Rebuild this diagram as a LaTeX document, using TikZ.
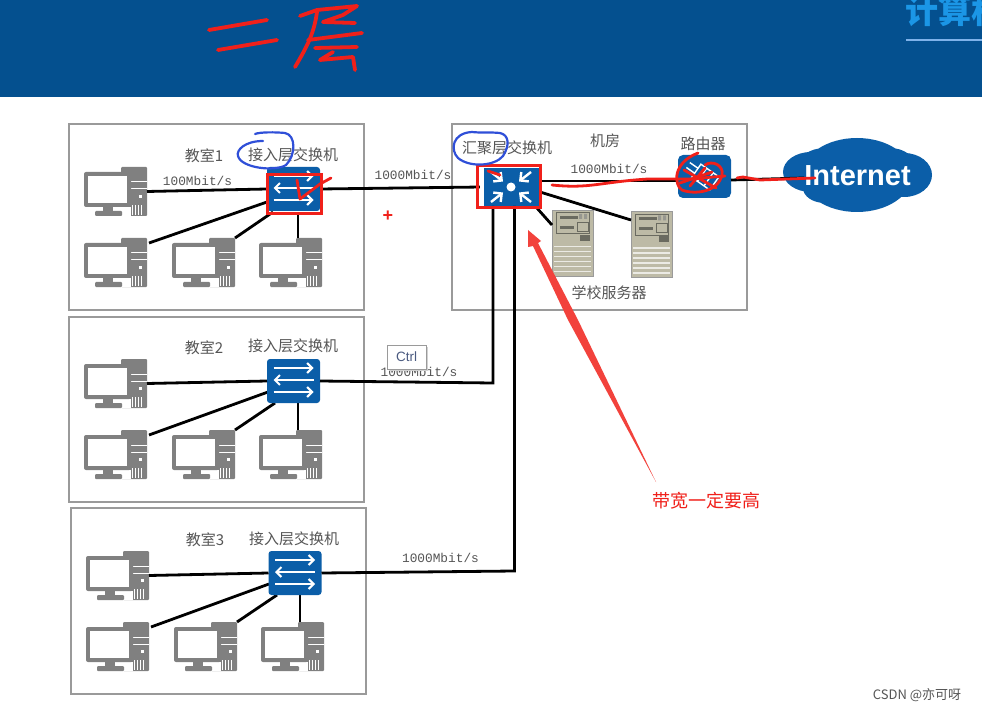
\documentclass[tikz,border=0pt]{standalone}
\usepackage{fontspec}
\setmainfont{Liberation Sans}
\newfontfamily\cjk{Noto Sans CJK SC}
\newfontfamily\lmono{Liberation Mono}
\usetikzlibrary{arrows.meta,calc}
\definecolor{hdr}{HTML}{04508F}
\definecolor{hdrtext}{HTML}{1B96E6}
\definecolor{hdrline}{HTML}{7FB2EA}
\definecolor{ctrltxt}{HTML}{4A5A80}
\definecolor{netblue}{HTML}{0B5EA8}
\definecolor{boxgray}{HTML}{9A9A9A}
\definecolor{pcgray}{HTML}{808080}
\definecolor{txt}{HTML}{555555}
\definecolor{inkred}{HTML}{F0201A}
\definecolor{inkblue}{HTML}{2F4FD8}
\definecolor{srv}{HTML}{BDBAA6}
\definecolor{srvdark}{HTML}{6A6A60}
\tikzset{
  room/.style={draw=boxgray,line width=1.3pt,fill=white},
  link/.style={draw=black,line width=2.8pt},
  cn/.style={font=\cjk\fontsize{15}{15}\selectfont,text=txt,inner sep=0pt},
  rate/.style={font=\lmono\fontsize{12.8}{13}\selectfont,text=txt,inner sep=0pt},
  ink/.style={draw=inkred,line width=2.8pt,line cap=round,line join=round},
  tink/.style={draw=inkred,line width=3.8pt,line cap=round,line join=round},
  bink/.style={draw=inkblue,line width=2.2pt,line cap=round,line join=round},
  wline/.style={draw=white,line width=2pt},
  pcbox/.style={minimum width=63pt,minimum height=49pt,inner sep=0pt,outer sep=0pt},
  srvbox/.style={minimum width=41pt,minimum height=66pt,inner sep=0pt,outer sep=0pt,
    fill=srv,draw=boxgray,line width=.8pt},
  swbox/.style={minimum width=53pt,minimum height=44pt,inner sep=0pt,outer sep=0pt,
    fill=netblue,rounded corners=3pt},
  agbox/.style={minimum width=58pt,minimum height=38pt,inner sep=0pt,outer sep=0pt,fill=netblue},
  rtbox/.style={minimum width=53pt,minimum height=43pt,inner sep=0pt,outer sep=0pt,
    fill=netblue,rounded corners=5pt},
  barb/.style={-{Straight Barb[length=5pt,width=10pt]}},
}
\newcommand\pcdev[2]{%
  \node[pcbox] (#1) at (#2) {};
  \begin{scope}[shift={(#1.north west)}]
    \fill[pcgray,rounded corners=1pt] (37,0) rectangle (63,49);
    \fill[white] (47,14.5) rectangle (63,15.5);
    \fill[white] (47,21.5) rectangle (63,22.5);
    \fill[white] (55,28) rectangle (58,31);
    \fill[white] (37,40) rectangle (47,49);
    \fill[pcgray,rounded corners=2pt] (0,5) rectangle (47,40);
    \fill[white] (4,9) rectangle (43,36);
    \foreach \k in {48,51,54,57} \fill[white] (\k,38) rectangle (\k+1.2,48);
    \fill[pcgray] (19,40) rectangle (29,44);
    \fill[pcgray,rounded corners=1pt] (11,44) rectangle (38,49);
  \end{scope}}
\newcommand\srvdev[2]{%
  \node[srvbox] (#1) at (#2) {};
  \begin{scope}[shift={(#1.north west)}]
    \draw[srvdark,line width=1pt] (4,3) rectangle (37,24);
    \fill[srvdark] (8,6) rectangle (26,9);
    \fill[srvdark] (8,16) rectangle (22,19);
    \draw[srvdark,line width=.8pt] (25,12) rectangle (36,21);
    \fill[srvdark!70] (27,4) rectangle (30,9) (32,4) rectangle (35,9);
    \fill[srvdark] (28,25) rectangle (38,31);
    \foreach \k in {36,41,46,51,56,61} \fill[white!70!srv] (2,\k) rectangle (39,\k+1.4);
  \end{scope}}
\newcommand\swdev[2]{%
  \node[swbox] (#1) at (#2) {};
  \begin{scope}[shift={(#1.center)}]
    \draw[wline,barb] (-20,-13) -- (20,-13);
    \draw[wline,barb] (20,-1) -- (-20,-1);
    \draw[wline,barb] (-20,11) -- (20,11);
  \end{scope}}
\begin{document}
\begin{tikzpicture}[x=1pt,y=-1pt]
\useasboundingbox (0,0) rectangle (982,711);
\begin{scope}
\clip (0,0) rectangle (982,711);
\fill[white] (0,0) rectangle (982,711);
\fill[hdr] (0,0) rectangle (982,97);
\node[anchor=west,inner sep=0pt,text=hdrtext,font=\cjk\bfseries\fontsize{33}{33}\selectfont] at (905,11) {计算机};
\fill[hdrline] (906,39.3) rectangle (982,41);

% rooms
\draw[room] (69,124) rectangle (364,310);
\draw[room] (69,317) rectangle (364,502);
\draw[room] (71,508) rectangle (366,694);
\draw[room] (452,124) rectangle (747,310);

% cloud
\fill[netblue] (857,175) ellipse [x radius=55,y radius=37]
  (811,172) ellipse [x radius=28,y radius=20]
  (904,175) ellipse [x radius=28,y radius=22]
  (825,168) ellipse [x radius=28,y radius=20]
  (890,168) ellipse [x radius=26,y radius=20]
  (825,188) ellipse [x radius=22,y radius=15]
  (888,186) ellipse [x radius=22,y radius=13];
\node[inner sep=0pt,text=white,font=\bfseries\fontsize{29}{29}\selectfont] (inet) at (857.5,176) {Internet};

% devices
\pcdev{a1}{115.5,191.5}
\pcdev{a2}{115.5,262.5}
\pcdev{a3}{203.5,262.5}
\pcdev{a4}{290.5,262.5}
\pcdev{b1}{115.5,383.5}
\pcdev{b2}{115.5,454.5}
\pcdev{b3}{203.5,454.5}
\pcdev{b4}{290.5,454.5}
\pcdev{c1}{117.5,575.5}
\pcdev{c2}{117.5,646.5}
\pcdev{c3}{205.5,646.5}
\pcdev{c4}{292.5,646.5}
\srvdev{s1}{572.5,243}
\srvdev{s2}{651.5,244.5}

% links
\coordinate (sw1p) at (293.5,189);
\coordinate (sw2p) at (293.5,381);
\coordinate (sw3p) at (295,573);
\draw[link] ([shift={(2,5)}]a2.north east) -- (267,202);
\draw[link] (a3.north east) -- (273,212);
\draw[link] (298,214) -- (298,238);
\draw[link] ([shift={(2,5)}]b2.north east) -- (268,392);
\draw[link] (b3.north east) -- (275,403);
\draw[link] (298,403) -- (298,430);
\draw[link] ([shift={(2,5)}]c2.north east) -- (269,584);
\draw[link] (c3.north east) -- (277,595);
\draw[link] (300,595) -- (300,622);
\draw[link] (536,207) -- (s1.west |- 0,225);
\draw[link] (540,192) -- (s2.west |- 0,220);

\swdev{sw1}{sw1p}
\swdev{sw2}{sw2p}
\swdev{sw3}{sw3p}
\node[agbox] (ag) at (511,187) {};
\begin{scope}[shift={(ag.center)}]
  \fill[white] (0,0) circle [radius=4.5];
  \foreach \sx/\sy in {1/1,1/-1,-1/1,-1/-1}
    \draw[white,line width=2.4pt,-{Straight Barb[length=6pt,width=12pt]}]
      (20*\sx,15*\sy) -- (8*\sx,5.5*\sy);
\end{scope}
\node[rtbox] (rt) at (704.5,176.5) {};
\begin{scope}[shift={(rt.center)}]
  \draw[white,line width=1.4pt,rotate=-35] (-10,-8) rectangle (12,8);
  \draw[white,line width=1.4pt,rotate=-35] (-3,-8) -- (-3,8) (5,-8) -- (5,8);
  \draw[white,line width=1.4pt,rotate=-35] (-20,-3) -- (-10,-3) (-20,3) -- (-10,3);
\end{scope}

\draw[link] (a1.east) -- (sw1.west);
\draw[link] (b1.east) -- (sw2.west);
\draw[link] (c1.east) -- (sw3.west);
\draw[link] (sw1.east) -- (ag.west);
\draw[link] (sw2.east) -- (493,383) -- (493,206);
\draw[link] (sw3.east) -- (514.5,571) -- (514.5,206);
\draw[link] (ag.east |- 0,181) -- (rt.west |- 0,181);
\draw[link] (rt.east |- 0,180) -- (inet.west |- 0,178);

% labels
\node[cn] (l1) at (204,156) {教室1};
\node[cn] (l2) at (293,155) {接入层交换机};
\node[cn] (l3) at (204,348) {教室2};
\node[cn] (l4) at (293,346) {接入层交换机};
\node[cn] (l5) at (205,540) {教室3};
\node[cn] (l6) at (294,539) {接入层交换机};
\node[cn] (l7) at (507,148) {汇聚层交换机};
\node[cn] (l8) at (605,141) {机房};
\node[cn] (l9) at (703,144) {路由器};
\node[cn] (l10) at (609,293) {学校服务器};
\node[rate] (r1) at (197.5,181) {100Mbit/s};
\node[rate] (r2) at (413,175) {1000Mbit/s};
\node[rate] (r3) at (609,169) {1000Mbit/s};
\node[rate] (r4) at (419,372) {1000Mbit/s};
\node[rate] (r5) at (440.5,558) {1000Mbit/s};

% ctrl key overlay
\fill[black!18] (389,347) rectangle (428,371);
\node[draw=boxgray,line width=.9pt,fill=white,minimum width=39pt,minimum height=24pt,inner sep=0pt,
  text=ctrltxt,font=\fontsize{13.5}{14}\selectfont] (ctrl) at (406.5,357) {Ctrl};

% red marks around switches
\draw[draw=inkred,line width=3pt] (267,175) rectangle (321,214);
\draw[draw=inkred,line width=3pt] (477,166) rectangle (540,208);
\fill[white] (480,168) rectangle (484,206);
\draw[ink] (297,180) -- (300,199) -- (320,184) -- (331,178);
\draw[ink] (488,171) -- (500,175);
\draw[ink] (552,185) .. controls (590,189) and (600,182) .. (648,179) -- (690,179) -- (725,176);
\draw[ink] (698,153) .. controls (672,163) and (674,185) .. (682,190) .. controls (695,195) and (718,192) .. (722,175) .. controls (724,165) and (712,160) .. (705,165);
\draw[ink] (684,170) -- (716,188) (680,183) -- (712,172) (690,186) -- (705,168);
\draw[ink] (737,178) -- (743,177) -- (760,180) -- (815,178);

% blue circles
\draw[bink] (263,141) .. controls (245,141) and (236,150) .. (238,156) .. controls (241,168) and (275,172) .. (286,165) .. controls (296,155) and (296,135) .. (285,133) .. controls (275,132) and (260,132) .. (255,134);
\draw[bink] (472,132) .. controls (452,133) and (450,150) .. (458,158) .. controls (470,168) and (495,166) .. (503,156) .. controls (510,145) and (509,135) .. (500,133) .. controls (490,132) and (480,133) .. (472,132);

% title handwriting
\draw[tink] (209,30) -- (267,20);
\draw[tink] (218,50) -- (277,40);
\draw[tink] (300,16) -- (317,10) -- (357,6) -- (343,15) -- (323,22) -- (355,23);
\draw[tink] (317,12) .. controls (314,33) and (308,45) .. (295,67);
\draw[tink] (308,40) -- (362,33);
\draw[tink] (315,48) -- (357,47);
\draw[tink] (333,52) -- (320,60) -- (353,57) -- (355,70);

% big arrow
\fill[inkred!85!white] (656,482) -- (568,320) -- (533,246) -- (528,247) -- (528,230) -- (541,241) -- (538,243) -- (578,320) -- cycle;
\node[inner sep=0pt,text=inkred,font=\cjk\fontsize{18}{18}\selectfont] (note) at (706,501) {带宽一定要高};
\node[inner sep=0pt,text=inkred,font=\bfseries\fontsize{18}{18}\selectfont] (plus) at (388,216) {+};
\node[inner sep=0pt,text=txt,font=\cjk\fontsize{13}{13}\selectfont] (wm) at (917,695) {CSDN @亦可呀};
\end{scope}
\end{tikzpicture}
\end{document}
